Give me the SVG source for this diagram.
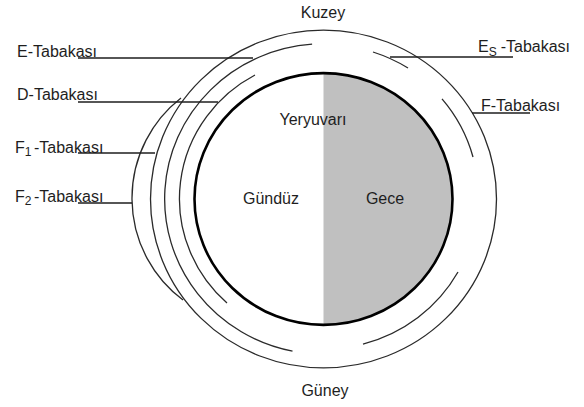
<svg xmlns="http://www.w3.org/2000/svg" width="584" height="407" viewBox="0 0 584 407">
<style>
text{font-family:"Liberation Sans",Arial,sans-serif;font-size:16px;fill:#1e1e1e}
.sub{font-size:12px}
.arc{fill:none;stroke:#2a2a2a;stroke-width:1.3}
.lead{fill:none;stroke:#1e1e1e;stroke-width:1.5}
</style>
<rect width="584" height="407" fill="#fff"/>
<g id="earth">
<path d="M323.5 73.1 A129 125.9 0 0 1 323.5 324.9 Z" fill="#c0c0c0"/>
<ellipse cx="323.5" cy="199" rx="129" ry="125.9" fill="none" stroke="#000" stroke-width="2.6"/>
<text x="313" y="125" text-anchor="middle">Yeryuvarı</text>
<text x="271" y="204" text-anchor="middle">Gündüz</text>
<text x="385" y="204" text-anchor="middle">Gece</text>
</g>
<g id="layers">
<g transform="translate(323.5 199) scale(1 0.976)">
<circle id="outer-layer" class="arc" r="173"/>
<path id="layer-r3-left" class="arc" d="M-11.4 -158.6 A159 159 0 0 0 -31 155.9"/>
<path id="layer-d" class="arc" d="M-68.5 -127 A144 144 0 0 0 -96.5 106.6"/>
<path id="layer-es" class="arc" d="M49.5 -150.6 A158 158 0 0 1 84.5 -134.2"/>
<path id="layer-f" class="arc" d="M118.5 -102.5 A156 156 0 0 1 149.5 -43"/>
<path id="layer-f-low" class="arc" d="M134.5 74.8 A154 154 0 0 1 39.5 148.6"/>
</g>
<path id="layer-f2" class="arc" d="M181 98 A127 127 0 0 0 183 300"/>
</g>
<g id="connectors">
<line class="lead" x1="78" y1="58" x2="253" y2="58"/>
<line class="lead" x1="78" y1="102" x2="218" y2="102"/>
<line class="lead" x1="78" y1="153" x2="155" y2="153"/>
<line class="lead" x1="78" y1="203" x2="132" y2="203"/>
<line class="lead" x1="390" y1="57" x2="513" y2="57"/>
<line class="lead" x1="472" y1="113" x2="530" y2="113"/>
</g>
<g id="labels">
<text id="kuzey" x="323" y="18" text-anchor="middle">Kuzey</text>
<text id="guney" x="325" y="396" text-anchor="middle">Güney</text>
<text id="lbl-e" x="17" y="56.5">E-Tabakası</text>
<text id="lbl-d" x="17" y="99.5">D-Tabakası</text>
<text id="lbl-f1" x="15" y="153">F<tspan class="sub" dy="3">1</tspan><tspan dx="2.5" dy="-3">-Tabakası</tspan></text>
<text id="lbl-f2" x="15" y="202">F<tspan class="sub" dy="3">2</tspan><tspan dx="2.5" dy="-3">-Tabakası</tspan></text>
<text id="lbl-es" x="478" y="52">E<tspan class="sub" dy="4">S</tspan><tspan dx="4" dy="-4">-Tabakası</tspan></text>
<text id="lbl-f" x="481" y="111">F-Tabakası</text>
</g>
</svg>
